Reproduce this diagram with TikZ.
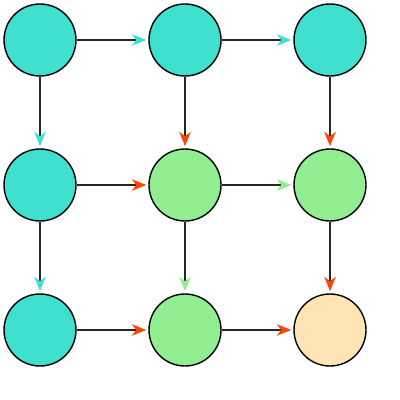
\documentclass[tikz,border=0pt]{standalone}
\usetikzlibrary{arrows.meta}
\definecolor{turq}{RGB}{64,224,208}
\definecolor{lgreen}{RGB}{144,238,144}
\definecolor{moc}{RGB}{255,228,181}
\definecolor{ored}{RGB}{255,69,0}
\begin{document}
\begin{tikzpicture}[dot/.style={circle,draw=black,line width=1pt,minimum size=1.8cm,inner sep=0pt},a/.style={-{Stealth[length=3.6mm,width=2.9mm,inset=1.1mm,color=#1]},draw=black!85,line width=.9pt,shorten >=1.5pt}]
\useasboundingbox (0,0) rectangle (10,-10);
\node[dot,fill=turq] (n11) at (1,-1) {};
\node[dot,fill=turq] (n12) at (4.625,-1) {};
\node[dot,fill=turq] (n13) at (8.25,-1) {};
\node[dot,fill=turq] (n21) at (1,-4.625) {};
\node[dot,fill=lgreen] (n22) at (4.625,-4.625) {};
\node[dot,fill=lgreen] (n23) at (8.25,-4.625) {};
\node[dot,fill=turq] (n31) at (1,-8.25) {};
\node[dot,fill=lgreen] (n32) at (4.625,-8.25) {};
\node[dot,fill=moc] (n33) at (8.25,-8.25) {};
\draw[a=turq] (n11)--(n12); \draw[a=turq] (n12)--(n13);
\draw[a=turq] (n11)--(n21); \draw[a=ored] (n12)--(n22); \draw[a=ored] (n13)--(n23);
\draw[a=ored] (n21)--(n22); \draw[a=lgreen] (n22)--(n23);
\draw[a=turq] (n21)--(n31); \draw[a=lgreen] (n22)--(n32); \draw[a=ored] (n23)--(n33);
\draw[a=ored] (n31)--(n32); \draw[a=ored] (n32)--(n33);
\end{tikzpicture}
\end{document}
